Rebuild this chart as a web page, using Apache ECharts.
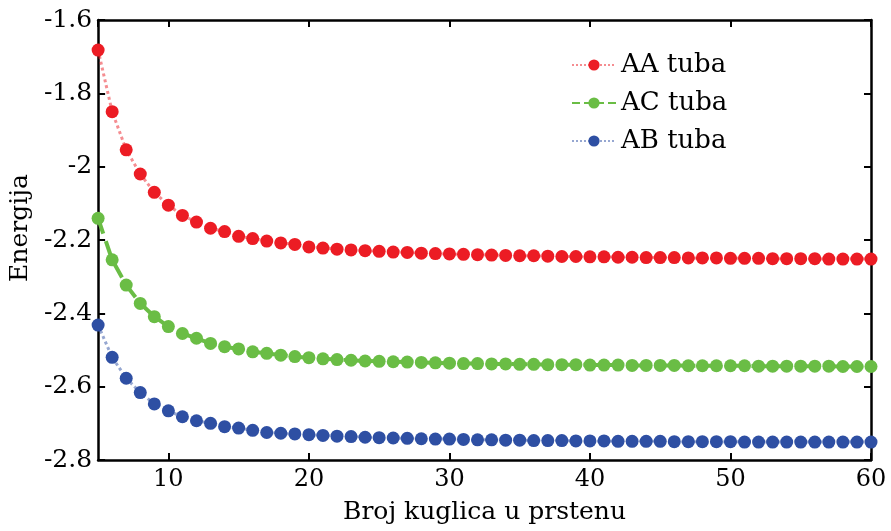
<!DOCTYPE html>
<html>
<head>
<meta charset="utf-8">
<script src="https://cdn.jsdelivr.net/npm/echarts@6/dist/echarts.min.js"></script>
<style>
  html, body { margin: 0; padding: 0; background: #fff; }
  #chart { width: 891px; height: 531px; }
</style>
</head>
<body>
<div id="chart"></div>
<script>
// broj kuglica (x os)
var n = [];
for (var i = 5; i <= 60; i++) n.push(i);

var aaTuba = [
  -1.682, -1.850, -1.954, -2.020, -2.070, -2.105, -2.133, -2.151, -2.168, -2.177,
  -2.190, -2.196, -2.203, -2.208, -2.212, -2.219, -2.222, -2.225, -2.227, -2.229,
  -2.231, -2.233, -2.234, -2.236, -2.237, -2.238, -2.239, -2.240, -2.241, -2.242,
  -2.243, -2.243, -2.244, -2.245, -2.245, -2.246, -2.246, -2.247, -2.247, -2.248,
  -2.248, -2.248, -2.249, -2.249, -2.249, -2.250, -2.250, -2.250, -2.251, -2.251,
  -2.251, -2.251, -2.252, -2.252, -2.252, -2.252
];
var acTuba = [
  -2.141, -2.254, -2.323, -2.373, -2.409, -2.436, -2.455, -2.468, -2.482, -2.491,
  -2.497, -2.505, -2.509, -2.514, -2.518, -2.521, -2.524, -2.526, -2.528, -2.530,
  -2.531, -2.532, -2.533, -2.534, -2.535, -2.536, -2.537, -2.537, -2.538, -2.538,
  -2.539, -2.539, -2.540, -2.540, -2.540, -2.541, -2.541, -2.541, -2.542, -2.542,
  -2.542, -2.542, -2.543, -2.543, -2.543, -2.543, -2.543, -2.544, -2.544, -2.544,
  -2.544, -2.544, -2.544, -2.545, -2.545, -2.545
];
var abTuba = [
  -2.432, -2.520, -2.577, -2.616, -2.647, -2.666, -2.682, -2.693, -2.700, -2.709,
  -2.713, -2.719, -2.725, -2.727, -2.729, -2.731, -2.733, -2.735, -2.736, -2.738,
  -2.739, -2.740, -2.741, -2.742, -2.743, -2.743, -2.744, -2.745, -2.745, -2.746,
  -2.746, -2.747, -2.747, -2.747, -2.748, -2.748, -2.748, -2.749, -2.749, -2.749,
  -2.749, -2.750, -2.750, -2.750, -2.750, -2.750, -2.751, -2.751, -2.751, -2.751,
  -2.751, -2.751, -2.751, -2.751, -2.751, -2.751
];

function pairs(ys) {
  return n.map(function (x, k) { return [x, ys[k]]; });
}

var font = 'DejaVu Serif';
var chart = echarts.init(document.getElementById('chart'));

var tickIn = { show: true, inside: true, length: 7, lineStyle: { color: '#000', width: 2 } };
var lineAx = { show: true, lineStyle: { color: '#000', width: 2.5 } };

var option = {
  animation: false,
  backgroundColor: '#fff',
  textStyle: { fontFamily: font },
  grid: { left: 98, right: 20, top: 20, bottom: 71 },
  legend: {
    orient: 'vertical',
    left: 566,
    top: 47,
    itemGap: 12,
    itemWidth: 44,
    itemHeight: 14,
    textStyle: { fontFamily: font, fontSize: 26, color: '#000' },
    data: ['AA tuba', 'AC tuba', 'AB tuba']
  },
  xAxis: [{
    type: 'value',
    min: 5,
    max: 60,
    splitNumber: 6,
    position: 'bottom',
    name: 'Broj kuglica u prstenu',
    nameLocation: 'middle',
    nameGap: 40,
    nameTextStyle: { fontFamily: font, fontSize: 25, color: '#000' },
    axisLine: lineAx,
    axisTick: tickIn,
    axisLabel: { showMinLabel: false, fontFamily: font, fontSize: 24, color: '#000', margin: 8 },
    splitLine: { show: false }
  }, {
    type: 'value',
    min: 5,
    max: 60,
    splitNumber: 6,
    position: 'top',
    axisLine: lineAx,
    axisTick: tickIn,
    axisLabel: { show: false },
    splitLine: { show: false }
  }],
  yAxis: [{
    type: 'value',
    min: -2.8,
    max: -1.6,
    interval: 0.2,
    position: 'left',
    name: 'Energija',
    nameLocation: 'middle',
    nameGap: 64,
    nameTextStyle: { fontFamily: font, fontSize: 25, color: '#000', padding: [0, 0, 0, 24] },
    axisLine: lineAx,
    axisTick: tickIn,
    axisLabel: { fontFamily: font, fontSize: 25, color: '#000', margin: 6 },
    splitLine: { show: false }
  }, {
    type: 'value',
    min: -2.8,
    max: -1.6,
    interval: 0.2,
    position: 'right',
    axisLine: lineAx,
    axisTick: tickIn,
    axisLabel: { show: false },
    splitLine: { show: false }
  }],
  series: [{
    name: 'AA tuba',
    type: 'line',
    data: pairs(aaTuba),
    symbol: 'circle',
    symbolSize: 13,
    itemStyle: { color: '#ec1c24' },
    lineStyle: { type: 'dotted', width: 3, color: 'rgba(236,28,36,0.5)' }
  }, {
    name: 'AC tuba',
    type: 'line',
    data: pairs(acTuba),
    symbol: 'circle',
    symbolSize: 13,
    itemStyle: { color: '#6abd45' },
    lineStyle: { type: 'dashed', width: 4, color: '#6abd45' }
  }, {
    name: 'AB tuba',
    type: 'line',
    data: pairs(abTuba),
    symbol: 'circle',
    symbolSize: 13,
    itemStyle: { color: '#2e4fa3' },
    lineStyle: { type: 'dotted', width: 3, color: 'rgba(46,79,163,0.5)' }
  }]
};

chart.setOption(option);
</script>
</body>
</html>
